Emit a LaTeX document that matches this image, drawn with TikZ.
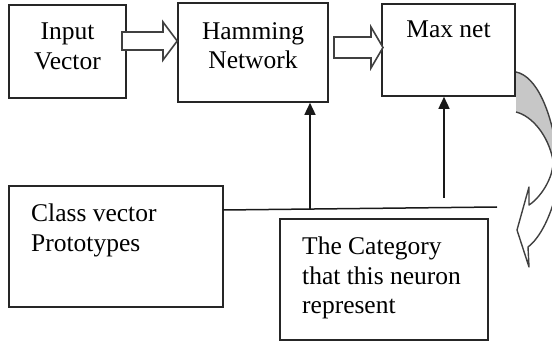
\documentclass[tikz,border=0pt]{standalone}
\usepackage{fontspec}
\setmainfont{Liberation Serif}
\usetikzlibrary{arrows.meta}
\begin{document}
\begin{tikzpicture}[x=1pt,y=-1pt,
  box/.style={draw=black!85,line width=1.6pt,inner sep=0pt,fill=white},
  txt/.style={inner sep=0pt,font=\fontsize{25.5pt}{29.5pt}\selectfont},
  hollow/.style={draw=black!75,line width=1.6pt,fill=white,line join=miter},
  conn/.style={draw=black!90,line width=1.5pt},
  upar/.style={conn,-{Triangle[width=11pt,length=12pt]}},
  curve/.style={draw=black!75,line width=1.4pt,line join=round},
]
\useasboundingbox (0,0) rectangle (552,342);
\clip (0,0) rectangle (552,342);

% curved ribbon arrow (back side shaded)
\fill[black!22] (516,72) .. controls (536,76) and (552,110) .. (558,160) -- (558,170)
  -- (553,160) .. controls (548,135) and (532,116) .. (516,112) -- cycle;
\draw[curve] (516,72) .. controls (536,76) and (552,110) .. (558,160);
\draw[curve] (516,112) .. controls (532,116) and (548,135) .. (553,160)
  .. controls (554,178) and (540,198) .. (529,205) -- (529,187) -- (517,230)
  -- (529,267) -- (528,247) .. controls (540,238) and (552,215) .. (558,185);

% boxes
\node[box,minimum width=117pt,minimum height=93pt] (inp) at (67.5,51.5) {};
\node[box,minimum width=150pt,minimum height=99pt] (ham) at (253,52.5) {};
\node[box,minimum width=133pt,minimum height=92pt] (max) at (448.5,50) {};
\node[box,minimum width=214pt,minimum height=121pt] (cls) at (116,246.5) {};
\node[box,minimum width=208pt,minimum height=121pt] (cat) at (384,279.5) {};

% texts
\node[txt,align=center,anchor=north] (tinp) at (67.5,23) {Input\\Vector};
\node[txt,align=center,anchor=north] (tham) at (253,22) {Hamming\\Network};
\node[txt,align=center,anchor=north] (tmax) at (448.5,20.5) {Max net};
\node[txt,align=left,anchor=north west] (tcls) at (31,204) {Class vector\\Prototypes};
\node[txt,align=left,anchor=north west] (tcat) at (302,237) {The Category\\that this neuron\\represent};

% hollow block arrows
\draw[hollow] (122,32) -- (163,32) -- (163,22) -- (ham.west |- 0,41) -- (163,60) -- (163,50) -- (122,50) -- cycle;
\draw[hollow] (334,37) -- (371,37) -- (371,27) -- (383,47.5) -- (371,68) -- (371,58) -- (334,58) -- cycle;

% connectors
\coordinate (h1) at (223,210);
\coordinate (h2) at (497,207);
\coordinate (j1) at (310,209);
\coordinate (j2) at (444,198);
\draw[conn] (h1) -- (h2);
\draw[upar] (j1) -- (j1 |- ham.south);
\draw[upar] (j2) -- (j2 |- max.south);
\end{tikzpicture}
\end{document}
